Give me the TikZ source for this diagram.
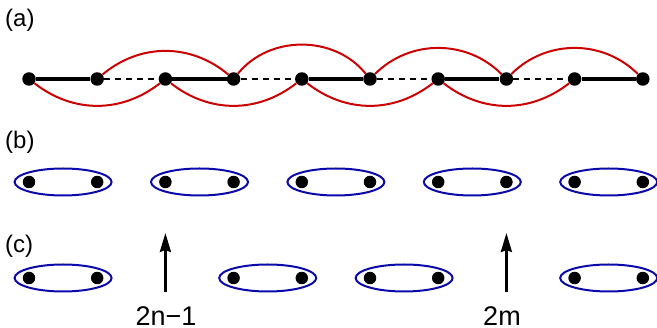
\documentclass[tikz,border=0pt]{standalone}
\usepackage{fontspec}
\setmainfont{Liberation Sans}
\usetikzlibrary{shapes.geometric,arrows.meta}
\definecolor{myred}{RGB}{204,0,0}
\definecolor{myblue}{RGB}{10,10,170}
\begin{document}
\begin{tikzpicture}[x=1pt,y=-1pt,
  dot/.style={circle,fill=black,inner sep=0pt,minimum size=13.5pt},
  sdot/.style={circle,fill=black,inner sep=0pt,minimum size=12.5pt},
  bond/.style={line width=4.5pt},
  weak/.style={line width=2.2pt,dash pattern=on 6pt off 5pt},
  link/.style={draw=myred,line width=2pt},
  pair/.style={ellipse,draw=myblue,line width=2pt,minimum width=97pt,minimum height=27pt,inner sep=0pt},
  lab/.style={font=\fontsize{24}{28}\selectfont,inner sep=0pt,anchor=west},
  num/.style={font=\fontsize{27}{32}\selectfont,inner sep=0pt,anchor=base},
  arr/.style={line width=2.8pt,-{Stealth[length=19pt,width=11pt,inset=2pt]}}]
\useasboundingbox (0,0) rectangle (657,328);

% labels
\node[lab] (la) at (5,20) {(a)};
\node[lab] (lb) at (5,142) {(b)};
\node[lab] (lc) at (5,246) {(c)};

% row (a)
\foreach \i in {0,...,9} {
  \node[dot] (a\i) at ({29+68.2*\i},79) {};
}
\draw[bond] (a0) -- (a1);
\draw[bond] (a2) -- (a3);
\draw[bond] (a4) -- (a5);
\draw[bond] (a6) -- (a7);
\draw[bond] (a8) -- (a9);
\draw[weak] (a1) -- (a2);
\draw[weak] (a3) -- (a4);
\draw[weak] (a5) -- (a6);
\draw[weak] (a7) -- (a8);
\draw[link] (a1) to[bend left=40] (a3);
\draw[link] (a3) to[bend left=51] (a5);
\draw[link] (a5) to[bend left=45] (a7);
\draw[link] (a7) to[bend left=45] (a9);
\draw[link] (a0) to[bend right=38] (a2);
\draw[link] (a2) to[bend right=38] (a4);
\draw[link] (a4) to[bend right=38] (a6);
\draw[link] (a6) to[bend right=38] (a8);

% row (b)
\foreach \k in {0,...,4} {
  \node[pair] (pb\k) at ({29+68.2*(2*\k)+34.1},182) {};
  \node[sdot] (bl\k) at ({29+68.2*(2*\k)},182) {};
  \node[sdot] (br\k) at ({29+68.2*(2*\k+1)},182) {};
}

% row (c)
\foreach \k in {0,3,5,8} {
  \node[pair] (pc\k) at ({29+68.2*\k+34.1},278) {};
  \node[sdot] (cl\k) at ({29+68.2*\k},278) {};
  \node[sdot] (cr\k) at ({29+68.2*(\k+1)},278) {};
}

% arrows
\coordinate (s1) at (165.4,292);
\coordinate (e1) at (165.4,233);
\coordinate (s2) at (506.4,292);
\coordinate (e2) at (506.4,233);
\draw[arr] (s1) -- (e1);
\draw[arr] (s2) -- (e2);
\node[num] (n1) at (166,326) {2n−1};
\node[num] (n2) at (502,326) {2m};
\end{tikzpicture}
\end{document}
